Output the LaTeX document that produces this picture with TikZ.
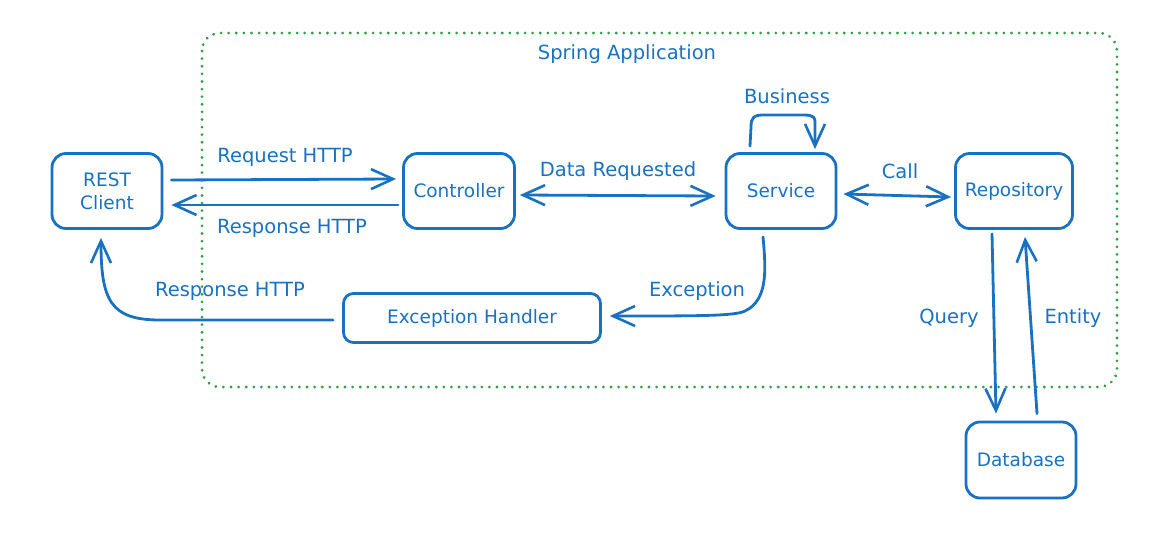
\documentclass[tikz,border=0pt]{standalone}
\usepackage{fontspec}
\setmainfont{DejaVu Sans}
\usetikzlibrary{arrows.meta}
\definecolor{eblue}{HTML}{1971C2}
\definecolor{egreen}{HTML}{2F9E44}
\begin{document}
\begin{tikzpicture}[x=1pt,y=-1pt,
  box/.style={draw=eblue,line width=2.8pt,rounded corners=14pt,text=eblue,font=\fontsize{18.5}{23}\selectfont,align=center,inner sep=0pt},
  lbl/.style={text=eblue,font=\fontsize{19.5}{23}\selectfont,inner sep=1pt},
  conn/.style={draw=eblue,line width=2.8pt,line cap=round},
  tip/.style={-{Straight Barb[length=22pt,width=20pt,line width=2.6pt]}},
  btip/.style={{Straight Barb[length=22pt,width=20pt,line width=2.6pt]}-{Straight Barb[length=22pt,width=20pt,line width=2.6pt]}},
  frame/.style={draw=egreen,line width=3pt,dash pattern=on 0.1pt off 7.5pt,line cap=round,rounded corners=18pt}]
\useasboundingbox (0,0) rectangle (1166,544);
\draw[frame] (202,33) rectangle (1117,387);
\node[lbl] (springlbl) at (627,54) {Spring Application};

\node[box,minimum width=110pt,minimum height=75pt] (client) at (107,191) {REST\\Client};
\node[box,minimum width=111pt,minimum height=75pt] (ctrl) at (459,191) {Controller};
\node[box,minimum width=110pt,minimum height=75pt] (svc) at (781,191) {Service};
\node[box,minimum width=117pt,minimum height=75pt] (repo) at (1014,191) {Repository};
\node[box,minimum width=257pt,minimum height=49pt,rounded corners=10pt] (eh) at (472,318) {Exception Handler};
\node[box,minimum width=110pt,minimum height=76pt] (db) at (1021,460) {Database};

% Request / response
\draw[conn,tip] ([xshift=8pt,yshift=11pt]client.east) -- ([xshift=-6pt,yshift=12pt]ctrl.west);
\node[lbl] (reqlbl) at (285,157) {Request HTTP};
\draw[conn,tip] ([xshift=-4pt,yshift=-14pt]ctrl.west) -- ([xshift=8pt,yshift=-14pt]client.east);
\node[lbl] (resplbl) at (292,228) {Response HTTP};

% Data requested
\draw[conn,btip] ([xshift=4pt,yshift=-4pt]ctrl.east) -- ([xshift=-9pt,yshift=-5pt]svc.west);
\node[lbl] (datalbl) at (618,171) {Data Requested};

% Call
\draw[conn,btip] ([xshift=6pt,yshift=-3pt]svc.east) -- ([xshift=-3pt,yshift=-6pt]repo.west);
\node[lbl] (calllbl) at (900,171) {Call};

% Business loop
\coordinate (bstart) at ([xshift=-31pt,yshift=6pt]svc.north);
\coordinate (bend) at ([xshift=34pt,yshift=3pt]svc.north);
\draw[conn,tip] (bstart) -- (751,127) .. controls (751,117) and (754,115) .. (764,115) -- (804,115) .. controls (814,115) and (815,118) .. (815,122) -- (bend);
\node[lbl] (buslbl) at (787,96) {Business};

% Exception
\draw[conn,tip] ([xshift=-18pt,yshift=-7pt]svc.south) .. controls (766,270) and (768,300) .. (745,311) .. controls (735,316) and (700,316) .. ([xshift=8pt,yshift=2pt]eh.east);
\node[lbl] (exclbl) at (697,291) {Exception};

% Exception handler -> client
\draw[conn,tip] ([xshift=-9pt,yshift=-2pt]eh.west) -- (160,320) .. controls (110,320) and (101,300) .. ([xshift=-6pt,yshift=-8pt]client.south);
\node[lbl] (resp2lbl) at (230,291) {Response HTTP};

% Query / Entity
\draw[conn,tip] ([xshift=-22pt,yshift=-4pt]repo.south) -- ([xshift=-25pt,yshift=7pt]db.north);
\node[lbl] (querylbl) at (949,318) {Query};
\draw[conn,tip] ([xshift=16pt,yshift=7pt]db.north) -- ([xshift=11pt,yshift=-7pt]repo.south);
\node[lbl] (entlbl) at (1073,318) {Entity};
\end{tikzpicture}
\end{document}
